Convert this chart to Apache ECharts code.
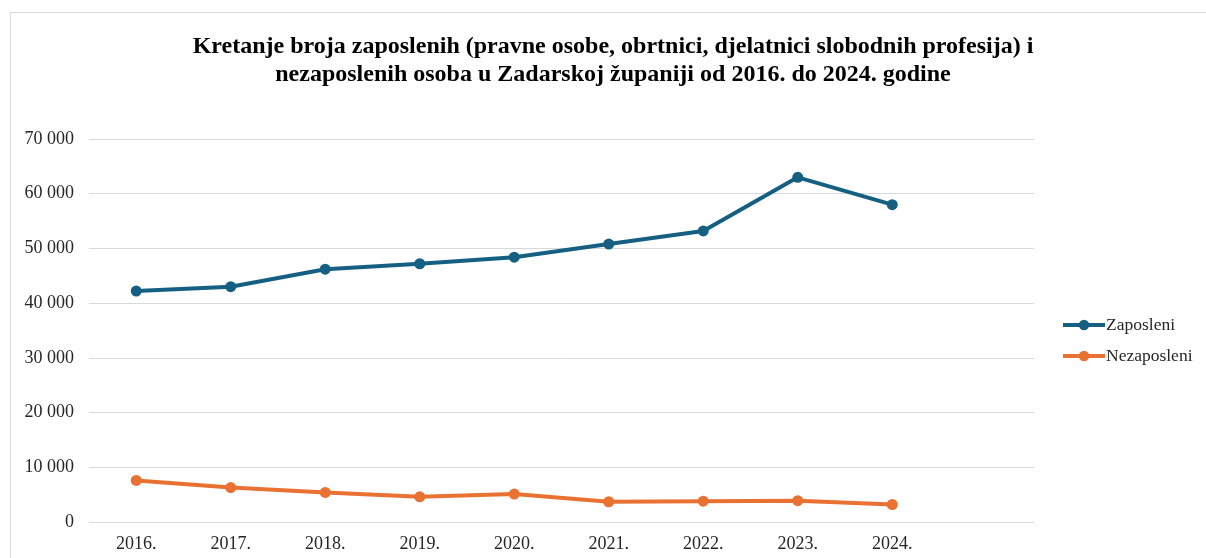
<!DOCTYPE html>
<html>
<head>
<meta charset="utf-8">
<script src="https://cdn.jsdelivr.net/npm/echarts@6/dist/echarts.min.js"></script>
<style>
  html, body { margin: 0; padding: 0; background: #fff; }
  #main {
    position: absolute;
    left: 10px;
    top: 12px;
    width: 1196px;
    height: 546px;
    border-top: 1px solid #d9d9d9;
    border-left: 1px solid #d9d9d9;
  }
</style>
</head>
<body>
<div id="main"></div>
<script>
// godine (zadnja kategorija je prazna, kao u izvorniku)
const years = ['2016.', '2017.', '2018.', '2019.', '2020.', '2021.', '2022.', '2023.', '2024.', '']
const zaposleni = [42200, 43000, 46200, 47200, 48400, 50800, 53200, 63000, 58000, null]
const nezaposleni = [7600, 6300, 5400, 4600, 5100, 3700, 3800, 3900, 3200, null]
const yTicks = [0, 10000, 20000, 30000, 40000, 50000, 60000, 70000]

const serif = '"Liberation Serif", "Times New Roman", serif'

function fmt(v) {
  return String(v).replace(/\B(?=(\d{3})+(?!\d))/g, ' ')
}

const chart = echarts.init(document.getElementById('main'))
const option = {
  animation: false,
  title: {
    text: 'Kretanje broja zaposlenih (pravne osobe, obrtnici, djelatnici slobodnih profesija) i\nnezaposlenih osoba u Zadarskoj županiji od 2016. do 2024. godine',
    left: 597,
    top: 15,
    textAlign: 'center',
    textStyle: {
      fontFamily: serif,
      fontWeight: 'bold',
      fontSize: 24,
      lineHeight: 28,
      color: '#000'
    }
  },
  legend: {
    orient: 'vertical',
    left: 1045,
    top: 298,
    itemWidth: 42,
    itemHeight: 13,
    itemGap: 13,
    data: ['Zaposleni', 'Nezaposleni'],
    lineStyle: { width: 4 },
    textStyle: { fontFamily: serif, fontSize: 17.5, color: '#262626', padding: [0, 0, 0, -4] }
  },
  grid: {
    left: 78,
    right: 173,
    top: 126,
    bottom: 37
  },
  xAxis: {
    type: 'category',
    data: years,
    boundaryGap: true,
    axisLine: { show: false },
    axisTick: { show: false },
    axisLabel: { fontFamily: serif, fontSize: 18, color: '#262626', margin: 13 }
  },
  yAxis: {
    type: 'value',
    min: 0,
    max: 70000,
    interval: 10000,
    axisLine: { show: false },
    axisTick: { show: false },
    splitLine: { lineStyle: { color: '#d9d9d9', width: 1 } },
    axisLabel: {
      fontFamily: serif,
      fontSize: 18,
      color: '#262626',
      margin: 15,
      formatter: v => yTicks.includes(v) ? fmt(v) : ''
    }
  },
  series: [
    {
      name: 'Zaposleni',
      type: 'line',
      data: zaposleni,
      symbol: 'circle',
      symbolSize: 11,
      color: '#156082',
      lineStyle: { width: 4, color: '#156082' },
      itemStyle: { color: '#156082' }
    },
    {
      name: 'Nezaposleni',
      type: 'line',
      data: nezaposleni,
      symbol: 'circle',
      symbolSize: 11,
      color: '#e97132',
      lineStyle: { width: 4, color: '#e97132' },
      itemStyle: { color: '#e97132' }
    }
  ]
}
chart.setOption(option)
</script>
</body>
</html>
